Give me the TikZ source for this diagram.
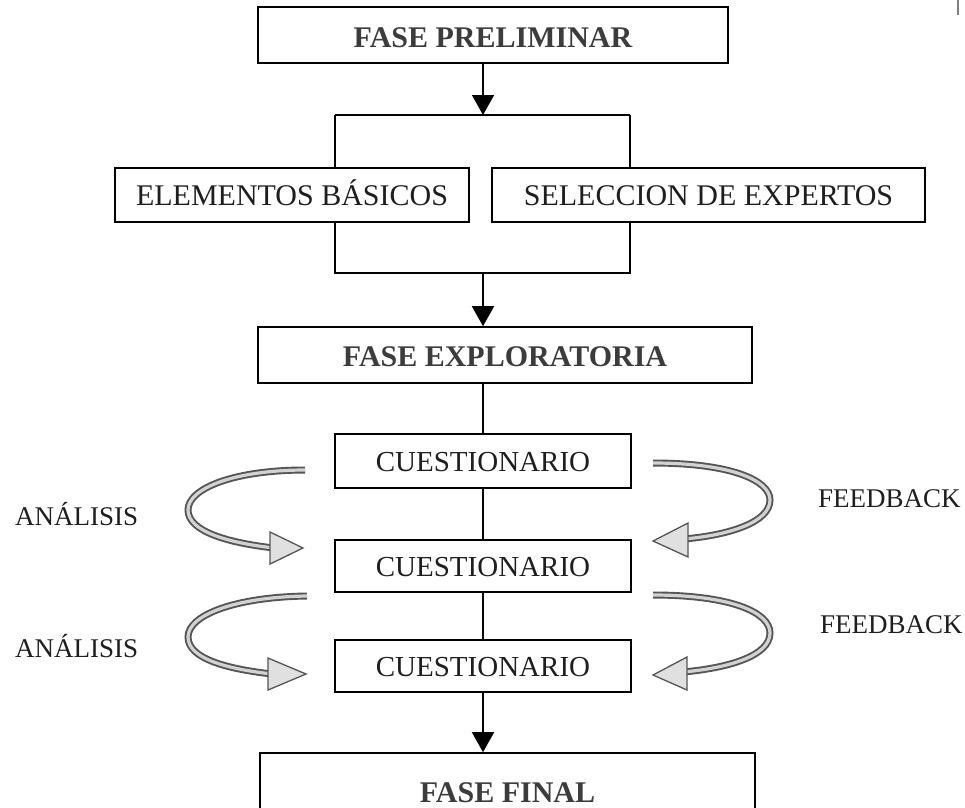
\documentclass[tikz,border=0pt]{standalone}
\usepackage{fontspec}
\setmainfont{Liberation Serif}
\usetikzlibrary{arrows.meta}
\definecolor{titlegray}{HTML}{3C3C3C}
\definecolor{txtdark}{HTML}{1E1E1E}
\definecolor{shaftdark}{HTML}{555555}
\definecolor{shaftlight}{HTML}{D2D2D2}
\definecolor{headfill}{HTML}{E0E0E0}
\tikzset{
  box/.style={draw=black, line width=1.6pt, inner sep=0pt, align=center, text depth=0pt},
  titlebox/.style={box, font=\fontsize{30}{36}\selectfont\bfseries, text=titlegray, text height=25pt},
  plainbox/.style={box, font=\fontsize{30}{36}\selectfont, text=txtdark, text height=20pt},
  qbox/.style={box, minimum width=296pt, font=\fontsize{29}{34}\selectfont, text=txtdark, text height=20pt},
  lbl/.style={anchor=base west, inner sep=0pt, font=\fontsize{27}{32}\selectfont, text=txtdark},
  conn/.style={draw=black, line width=1.6pt},
  arr/.style={conn, -{Triangle[length=20pt,width=22pt]}},
  shaftout/.style={draw=shaftdark, line width=7pt},
  shaftin/.style={draw=shaftlight, line width=3.2pt},
  headst/.style={fill=headfill, draw=shaftdark, line width=1.3pt, line join=miter}
}
\begin{document}
\begin{tikzpicture}[x=1pt, y=-1pt]
\useasboundingbox (0,0) rectangle (965,807);
% boxes
\node[titlebox, minimum width=470pt, minimum height=56pt] (pre) at (493,35) {FASE PRELIMINAR};
\node[plainbox, minimum width=354pt, minimum height=54pt] (elem) at (292,195) {ELEMENTOS BÁSICOS};
\node[plainbox, minimum width=433pt, minimum height=54pt] (sel) at (708.5,195) {SELECCION DE EXPERTOS};
\node[titlebox, minimum width=494pt, minimum height=56pt, text height=23pt] (exp) at (505,355) {FASE EXPLORATORIA};
\node[qbox, minimum height=54pt] (cq1) at (483,461) {CUESTIONARIO};
\node[qbox, minimum height=52pt] (cq2) at (483,566) {CUESTIONARIO};
\node[qbox, minimum height=52pt] (cq3) at (483,666) {CUESTIONARIO};
\node[titlebox, minimum width=495pt, minimum height=78pt, text height=20pt] (fin) at (507.5,792) {FASE FINAL};
% junction coordinates
\coordinate (tl) at (335,115);
\coordinate (tr) at (630,115);
\coordinate (bl) at (335,273);
\coordinate (br) at (630,273);
% connectors
\draw[arr] (pre.south -| cq1.center) -- (cq1.center |- tl);
\draw[conn] (tl) -- (tr);
\draw[conn] (tl) -- (tl |- elem.north);
\draw[conn] (tr) -- (tr |- sel.north);
\draw[conn] (elem.south -| bl) -- (bl) -- (br) -- (sel.south -| br);
\draw[arr] (cq1.center |- bl) -- (exp.north -| cq1.center);
\draw[conn] (exp.south -| cq1.center) -- (cq1.north);
\draw[conn] (cq1.south) -- (cq2.north);
\draw[conn] (cq2.south) -- (cq3.north);
\draw[arr] (cq3.south) -- (fin.north -| cq3.south);
% curved arrows
\foreach \s in {shaftout,shaftin}{
  \draw[\s] (305,470) .. controls (235,470) and (188,488) .. (188,510) .. controls (188,532) and (230,543) .. (274,548);
  \draw[\s] (307,596) .. controls (235,597) and (188,615) .. (188,637) .. controls (188,659) and (228,669) .. (272,674);
  \draw[\s] (653,463) .. controls (730,463) and (770,480) .. (770,500) .. controls (770,522) and (730,535) .. (684,539);
  \draw[\s] (653,595) .. controls (730,595) and (770,612) .. (770,633) .. controls (770,656) and (728,668) .. (683,672);
}
\coordinate (ha1) at (270,532); \coordinate (ht1) at (303,548); \coordinate (hb1) at (270,564);
\draw[headst] (ha1) -- (ht1) -- (hb1) -- cycle;
\coordinate (ha2) at (268,658); \coordinate (ht2) at (306,674); \coordinate (hb2) at (268,690);
\draw[headst] (ha2) -- (ht2) -- (hb2) -- cycle;
\coordinate (ha3) at (688,523); \coordinate (ht3) at (653,541); \coordinate (hb3) at (688,557);
\draw[headst] (ha3) -- (ht3) -- (hb3) -- cycle;
\coordinate (ha4) at (687,657); \coordinate (ht4) at (653,675); \coordinate (hb4) at (687,690);
\draw[headst] (ha4) -- (ht4) -- (hb4) -- cycle;
% labels
\node[lbl] (an1) at (15,525) {ANÁLISIS};
\node[lbl] (an2) at (15,657) {ANÁLISIS};
\node[lbl] (fb1) at (818,507) {FEEDBACK};
\node[lbl] (fb2) at (820,633) {FEEDBACK};
% small mark at top right
\coordinate (mk1) at (958,0); \coordinate (mk2) at (958,15);
\draw[draw=gray, line width=1.5pt] (mk1) -- (mk2);
\end{tikzpicture}
\end{document}
